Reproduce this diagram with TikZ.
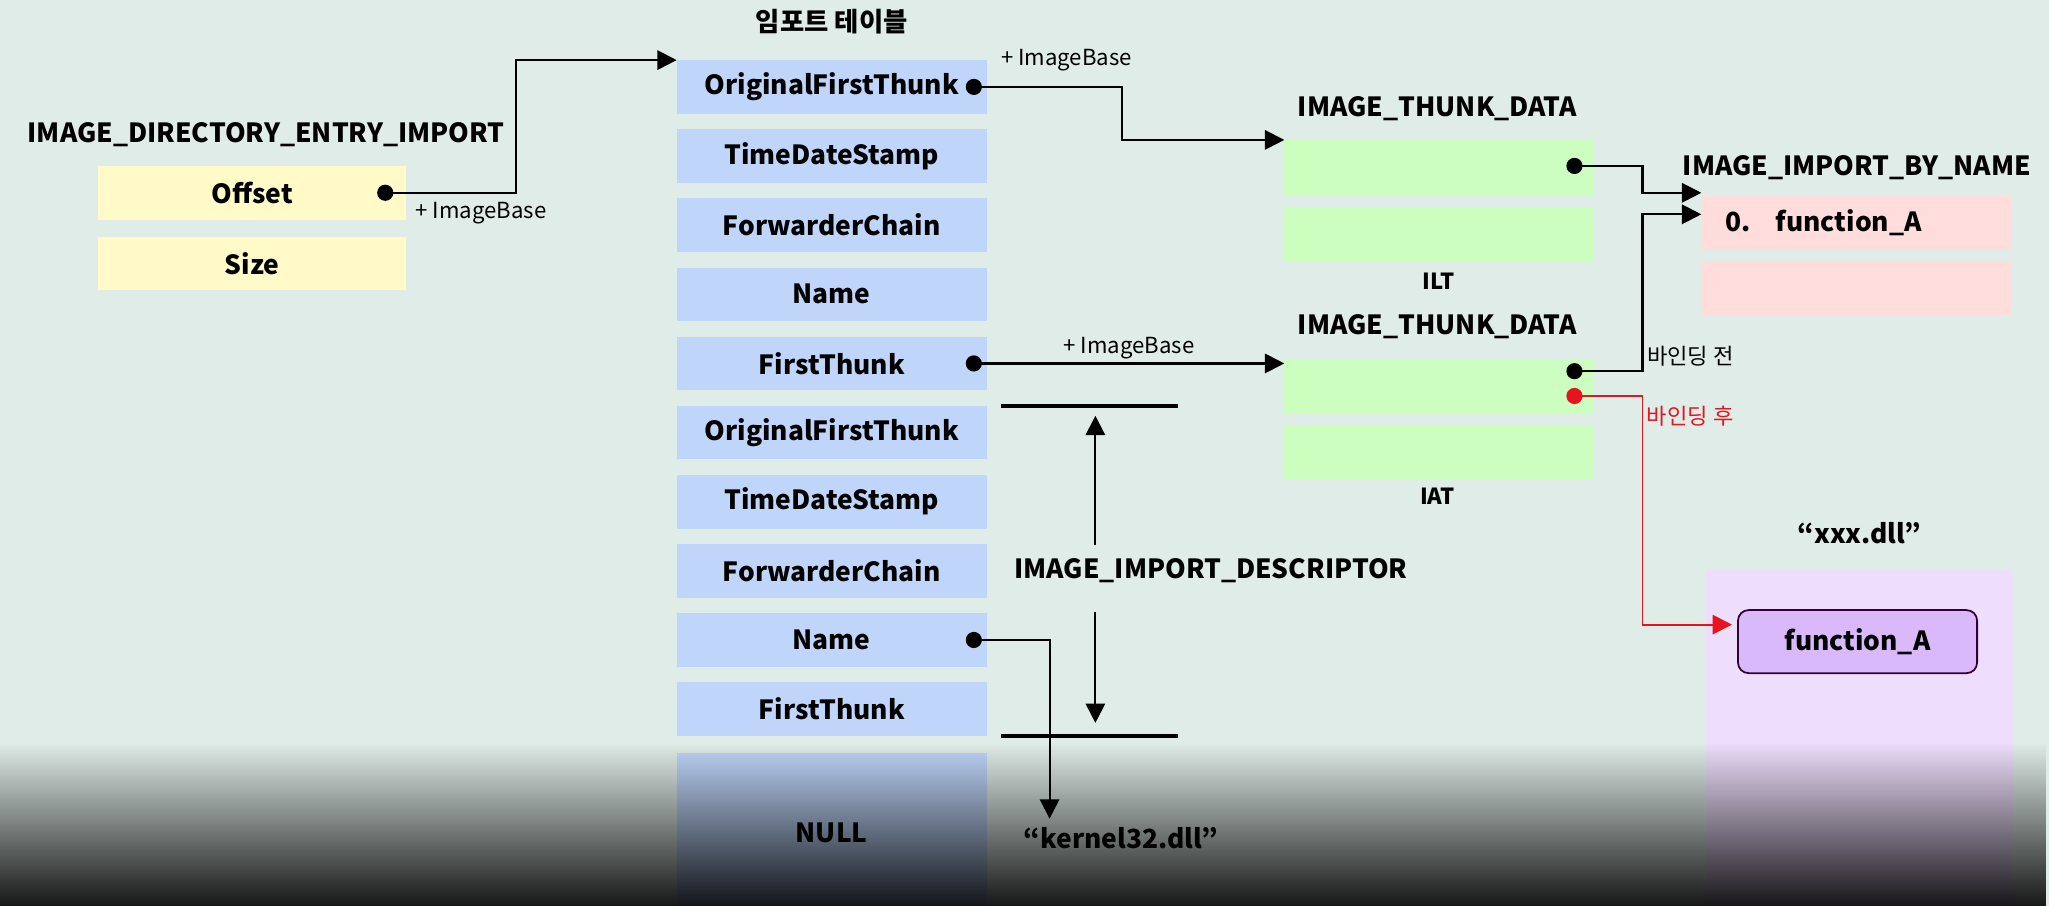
\documentclass[tikz,border=0pt]{standalone}
\usepackage{fontspec}
\setmainfont{Noto Sans CJK KR}
\usetikzlibrary{arrows.meta,positioning,fadings}
\definecolor{bgcol}{RGB}{224,236,232}
\definecolor{yelcol}{RGB}{255,250,200}
\definecolor{bluecol}{RGB}{191,214,250}
\definecolor{greencol}{RGB}{204,254,192}
\definecolor{pinkcol}{RGB}{255,221,221}
\definecolor{lavcol}{RGB}{238,222,251}
\definecolor{funccol}{RGB}{217,185,250}
\definecolor{redcol}{RGB}{230,20,30}
\tikzfading[name=darkfade, top color=transparent!100, bottom color=transparent!10]
\tikzset{
  field/.style={rectangle, fill=#1, minimum width=3.1cm, minimum height=0.536cm,
                inner sep=0pt, outer sep=0pt, font=\fontsize{7.5}{9}\selectfont\bfseries},
  heading/.style={font=\fontsize{7.5}{9}\selectfont\bfseries, inner sep=1pt},
  note/.style={font=\fontsize{6.3}{8}\selectfont, inner sep=1pt},
  ptr/.style={circle, fill=#1, inner sep=0pt, minimum size=4.6pt},
  ptr/.default=black,
  arr/.style={-{Triangle[length=5.5pt,width=5.5pt]}, line width=0.6pt, draw=#1},
  arr/.default=black,
  sepline/.style={line width=1pt},
}
\begin{document}
\begin{tikzpicture}[x=0.013068cm, y=-0.013068cm, node distance=0.155cm]
  \fill[bgcol] (0,0) rectangle (1568,693);
  \useasboundingbox (0,0) rectangle (1568,693);
  % directory entry
  \node[heading, anchor=west] (dirtitle) at (18,103) {IMAGE\_DIRECTORY\_ENTRY\_IMPORT};
  \node[field=yelcol, minimum width=3.08cm] (offset) at (193,147.5) {Offset};
  \node[field=yelcol, minimum width=3.08cm, below=0.17cm of offset] (size) {Size};
  % import table
  \node[field=bluecol] (oft1) at (636.5,66.5) {OriginalFirstThunk};
  \node[field=bluecol, below=of oft1] (tds1) {TimeDateStamp};
  \node[field=bluecol, below=of tds1] (fwc1) {ForwarderChain};
  \node[field=bluecol, below=of fwc1] (name1) {Name};
  \node[field=bluecol, below=of name1] (ft1) {FirstThunk};
  \node[field=bluecol, below=of ft1] (oft2) {OriginalFirstThunk};
  \node[field=bluecol, below=of oft2] (tds2) {TimeDateStamp};
  \node[field=bluecol, below=of tds2] (fwc2) {ForwarderChain};
  \node[field=bluecol, below=of fwc2] (name2) {Name};
  \node[field=bluecol, below=of name2] (ft2) {FirstThunk};
  \node[field=bluecol, below=0.17cm of ft2, minimum height=1.6cm] (null) {NULL};
  \node[heading, above=0.22cm of oft1] (imptitle) {임포트 테이블};
  % thunk data
  \node[heading] (ilttitle) at (1100,83) {IMAGE\_THUNK\_DATA};
  \node[field=greencol, minimum height=0.56cm] (ilt1) at (1101.5,128.5) {};
  \node[field=greencol, minimum height=0.54cm, below=0.11cm of ilt1] (ilt2) {};
  \node[note, font=\fontsize{6.3}{8}\selectfont\bfseries] (iltlbl) at (1101,215) {ILT};
  \node[heading] (iattitle) at (1100,250) {IMAGE\_THUNK\_DATA};
  \node[field=greencol, minimum height=0.54cm] (iat1) at (1101.5,296.5) {};
  \node[field=greencol, minimum height=0.54cm, below=0.11cm of iat1] (iat2) {};
  \node[note, font=\fontsize{6.3}{8}\selectfont\bfseries] (iatlbl) at (1100,380) {IAT};
  % import by name
  \node[heading] (ibntitle) at (1421,128) {IMAGE\_IMPORT\_BY\_NAME};
  \node[field=pinkcol, minimum width=3.11cm] (ibn1) at (1421,170.5) {};
  \node[field=pinkcol, minimum width=3.11cm, below=0.12cm of ibn1] (ibn2) {};
  \node[heading, anchor=west] (hint) at ([xshift=0.2cm]ibn1.west) {0.\hspace{0.25cm}function\_A};
  % dll
  \node[fill=lavcol, minimum width=3.07cm, minimum height=3.5cm, inner sep=0pt, anchor=north west] (xxxdll) at (1305,435) {};
  \node[heading, above=0.2cm of xxxdll] (xxxtitle) {“xxx.dll”};
  \node[field=funccol, draw=black!60!violet, line width=0.5pt, rounded corners=3pt,
        minimum width=2.39cm, minimum height=0.63cm] (funcA) at (1421.5,491) {function\_A};
  \node[heading] (k32) at (858,641) {“kernel32.dll”};
  % descriptor marks
  \node[heading, anchor=west] (desc) at (773,437) {IMAGE\_IMPORT\_DESCRIPTOR};
  \coordinate (topmark) at ([xshift=1.085cm]oft2.north east);
  \coordinate (botmark) at ([xshift=1.085cm]ft2.south east);
  \draw[sepline] ([xshift=0.144cm]oft2.north east) -- ([xshift=1.908cm]oft2.north east);
  \draw[sepline] ([xshift=0.144cm]ft2.south east) -- ([xshift=1.908cm]ft2.south east);
  \draw[arr] ([yshift=0.1cm]desc.north -| topmark) -- ([yshift=-0.1cm]topmark);
  \draw[arr] ([yshift=-0.25cm]desc.south -| botmark) -- ([yshift=0.13cm]botmark);
  % pointers
  \node[ptr] (offdot) at ([xshift=-0.21cm]offset.east) {};
  \node[ptr] (oftdot) at ([xshift=-0.13cm]oft1.east) {};
  \node[ptr] (ftdot) at ([xshift=-0.13cm]ft1.east) {};
  \node[ptr] (namedot) at ([xshift=-0.13cm]name2.east) {};
  \node[ptr] (iltdot) at ([xshift=-0.2cm, yshift=0.02cm]ilt1.east) {};
  \node[ptr] (iatdot) at ([xshift=-0.2cm, yshift=0.163cm]iat1.east) {};
  \node[ptr=redcol] (reddot) at ([xshift=-0.2cm, yshift=-0.085cm]iat1.east) {};
  % offset -> import table
  \draw[arr] (offdot.center) -- ++(1.307cm,0) |- (oft1.north west);
  \node[note, anchor=north west] (offlbl) at ([xshift=0.05cm, yshift=-0.05cm]offset.east) {+ ImageBase};
  % original first thunk -> ILT
  \draw[arr] (oftdot.center) -- ++(1.477cm,0) |- (ilt1.north west);
  \node[note, anchor=south west] (oftlbl) at ([xshift=0.1cm, yshift=0.12cm]oft1.east) {+ ImageBase};
  % first thunk -> IAT
  \draw[arr] (ftdot.center) -- (ftdot -| iat1.west) node[midway, above, note] {+ ImageBase};
  % ILT / IAT -> import by name
  \draw[arr] (iltdot.center) -- ++(0.68cm,0) |- ([yshift=0.3cm]ibn1.west);
  \draw[arr] (iatdot.center) -- ++(0.68cm,0) node[above right, note] {바인딩 전} |- ([yshift=0.085cm]ibn1.west);
  \draw[arr=redcol, line width=0.5pt] (reddot.center) -- ++(0.68cm,0)
    node[below right, note, text=redcol, yshift=-0.06cm] {바인딩 후} |- ([xshift=-0.06cm, yshift=0.17cm]funcA.west);
  % name -> dll name
  \draw[arr] (namedot.center) -| ([xshift=0.3cm, yshift=0.04cm]k32.north west);
  % video shade
  \fill[black, path fading=darkfade] (0,568) rectangle (1568,693);
\end{tikzpicture}
\end{document}
